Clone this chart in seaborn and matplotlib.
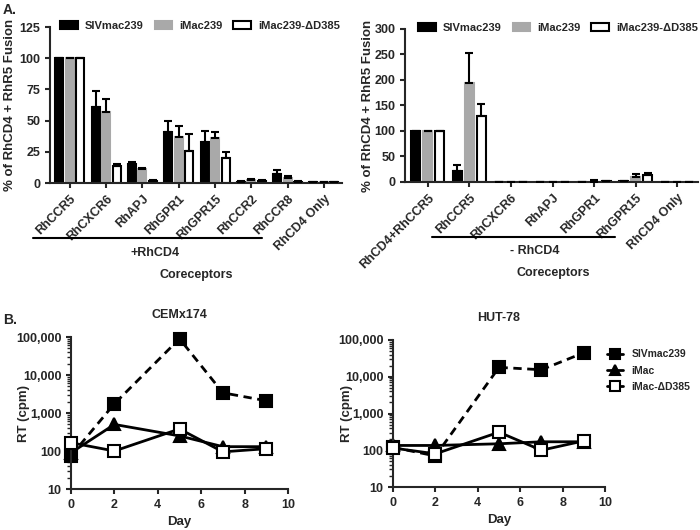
import numpy as np
import pandas as pd
import matplotlib
matplotlib.use('Agg')
import matplotlib.pyplot as plt
from matplotlib.lines import Line2D
from matplotlib.ticker import FuncFormatter
import seaborn as sns

# ---- Panel A data ----
viruses = ['SIVmac239', 'iMac239', 'iMac239-ΔD385']
bar_colors = ['#000000', '#a9a9a9', '#ffffff']

cats_left = ['RhCCR5', 'RhCXCR6', 'RhAPJ', 'RhGPR1', 'RhGPR15', 'RhCCR2', 'RhCCR8', 'RhCD4 Only']
siv_left = [100, 61, 15, 41, 33, 1, 7, 0.5]
imac_left = [100, 57, 11, 37, 36, 2.5, 4, 0.5]
d385_left = [100, 14, 2, 26, 20, 2, 1, 0.5]
siv_left_err = [0, 13, 1.5, 9, 9, 0.5, 3.5, 0]
imac_left_err = [0, 10, 1, 9, 5, 1, 1.5, 0]
d385_left_err = [0, 1, 0.5, 13, 5, 0.3, 0.3, 0]

cats_right = ['RhCD4+RhCCR5', 'RhCCR5', 'RhCXCR6', 'RhAPJ', 'RhGPR1', 'RhGPR15', 'RhCD4 Only']
siv_right = [100, 22, 0.5, 0, 0.5, 1.5, 0]
imac_right = [100, 195, 0.5, 0, 0.5, 10, 0]
d385_right = [100, 130, 0, 0, 1.5, 13, 0]
siv_right_err = [0, 11, 0, 0, 0, 0, 0]
imac_right_err = [0, 58, 0, 0, 3, 5, 0]
d385_right_err = [0, 22, 0, 0, 0, 5, 0]

# ---- Panel B data ----
days = [0, 2, 5, 7, 9]
line_names = ['SIVmac239', 'iMac', 'iMac-ΔD385']
cem_siv = [75, 1750, 90000, 3400, 2100]
cem_imac = [90, 500, 250, 130, 130]
cem_d385 = [165, 100, 380, 95, 115]
hut_siv = [120, 70, 18000, 15500, 45000]
hut_imac = [135, 135, 150, 170, 170]
hut_d385 = [115, 80, 310, 100, 180]

sns.set_style('ticks')
plt.rcParams['font.family'] = ['Liberation Sans', 'DejaVu Sans']
plt.rcParams['font.weight'] = 'bold'
plt.rcParams['axes.labelweight'] = 'bold'
plt.rcParams['axes.titleweight'] = 'bold'
plt.rcParams['axes.linewidth'] = 1.5
plt.rcParams['xtick.major.width'] = 1.5
plt.rcParams['ytick.major.width'] = 1.5
plt.rcParams['xtick.labelsize'] = 9
plt.rcParams['ytick.labelsize'] = 9

W, H = 700, 530
fig = plt.figure(figsize=(7, 5.3), dpi=100)


def ax_px(x0, y0, x1, y1):
    return fig.add_axes([x0 / W, 1 - y1 / H, (x1 - x0) / W, (y1 - y0) / H])


def fig_text(x, y, s, **kw):
    fig.text(x / W, 1 - y / H, s, **kw)


def fig_line(x0, x1, y):
    fig.add_artist(Line2D([x0 / W, x1 / W], [1 - y / H, 1 - y / H], color='black', lw=1.5))


def bar_panel(ax, cats, vals, errs, ymax, ystep, leg_x):
    df = pd.DataFrame({
        'cat': cats * 3,
        'virus': np.repeat(viruses, len(cats)),
        'val': vals[0] + vals[1] + vals[2],
    })
    sns.barplot(data=df, x='cat', y='val', hue='virus', order=cats, hue_order=viruses,
                palette=bar_colors, saturation=1, width=0.87, gap=0.24, errorbar=None,
                edgecolor='black', linewidth=1.5, legend=False, ax=ax)
    for bar in ax.containers[1]:
        bar.set_edgecolor(bar_colors[1])
    for cont, err in zip(ax.containers, errs):
        xs = [b.get_x() + b.get_width() / 2 for b in cont]
        hs = [b.get_height() for b in cont]
        ax.errorbar(xs, hs, yerr=[np.zeros(len(err)), err], fmt='none', ecolor='black',
                    elinewidth=1.5, capsize=3, capthick=1.5, zorder=5)
    ax.set_ylim(0, ymax)
    ax.set_yticks(np.arange(0, ymax + 1, ystep))
    ax.set_xlim(-0.55, len(cats) - 0.5)
    ax.set_xlabel('')
    ax.set_ylabel('% of RhCD4 + RhR5 Fusion', fontsize=9.5)
    ax.set_xticks(range(len(cats)))
    ax.set_xticklabels(cats, rotation=45, ha='right', rotation_mode='anchor', fontsize=9)
    sns.despine(ax=ax)
    ax.legend(ax.containers, viruses, ncol=3, loc='upper left', bbox_to_anchor=(leg_x, 1.07),
              frameon=False, fontsize=8, handlelength=1.6, handleheight=0.7,
              columnspacing=1.0, handletextpad=0.6, borderaxespad=0)


axA1 = ax_px(50, 27, 342, 183)
bar_panel(axA1, cats_left, [siv_left, imac_left, d385_left],
          [siv_left_err, imac_left_err, d385_left_err], 125, 25, 0.02)
axA1.yaxis.set_label_coords(-0.115, 0.5)

axA2 = ax_px(405, 29, 698, 182)
bar_panel(axA2, cats_right, [siv_right, imac_right, d385_right],
          [siv_right_err, imac_right_err, d385_right_err], 300, 50, 0.03)
axA2.yaxis.set_label_coords(-0.105, 0.5)

fig_line(33, 262, 238)
fig_text(155, 253, '+RhCD4', ha='center', va='center', fontsize=9)
fig_text(196, 275, 'Coreceptors', ha='center', va='center', fontsize=9)
fig_line(432, 615, 237)
fig_text(535, 251, '- RhCD4', ha='center', va='center', fontsize=9)
fig_text(553, 273, 'Coreceptors', ha='center', va='center', fontsize=9)


def line_panel(ax, series, title):
    df = pd.DataFrame({
        'day': days * 3,
        'virus': np.repeat(line_names, len(days)),
        'rt': series[0] + series[1] + series[2],
    })
    sns.lineplot(data=df, x='day', y='rt', hue='virus', style='virus',
                 hue_order=line_names, style_order=line_names,
                 palette=['black'] * 3,
                 markers={'SIVmac239': 's', 'iMac': '^', 'iMac-ΔD385': 's'},
                 dashes={'SIVmac239': (3, 2), 'iMac': '', 'iMac-ΔD385': ''},
                 markersize=8, linewidth=2, markeredgecolor='black', markeredgewidth=1.5,
                 clip_on=False, ax=ax)
    ax.lines[2].set_markerfacecolor('white')
    ax.lines[2].set_zorder(4)
    ax.set_yscale('log')
    ax.set_ylim(10, 100000)
    ax.yaxis.set_major_formatter(FuncFormatter(lambda v, p: f'{int(v):,}'))
    ax.set_xlim(0, 10)
    ax.set_xticks(range(0, 11, 2))
    ax.set_xlabel('Day', fontsize=9.5)
    ax.set_ylabel('RT (cpm)', fontsize=9.5)
    ax.set_title(title, fontsize=9, pad=14)
    ax.tick_params(axis='y', which='minor', length=3, width=1)
    sns.despine(ax=ax)
    return ax


axB1 = ax_px(71, 337, 288, 489)
line_panel(axB1, [cem_siv, cem_imac, cem_d385], 'CEMx174')
axB1.get_legend().remove()
axB1.yaxis.set_label_coords(-0.19, 0.5)

axB2 = ax_px(393, 340, 605, 487)
line_panel(axB2, [hut_siv, hut_imac, hut_d385], 'HUT-78')
handles, labels = axB2.get_legend_handles_labels()
axB2.get_legend().remove()
for h in handles:
    h.set_linestyle('-')
    h.set_markersize(7)
handles[2].set_markerfacecolor('white')
fig.legend(handles, labels, loc='upper left', bbox_to_anchor=(598 / W, 1 - 340 / H),
           frameon=False, fontsize=7.5, handlelength=1.5, labelspacing=0.6)
axB2.yaxis.set_label_coords(-0.19, 0.5)

fig_text(3, 10, 'A.', fontsize=10, va='center')
fig_text(3, 320, 'B.', fontsize=10, va='center')

fig.savefig('out.png', dpi=100)
